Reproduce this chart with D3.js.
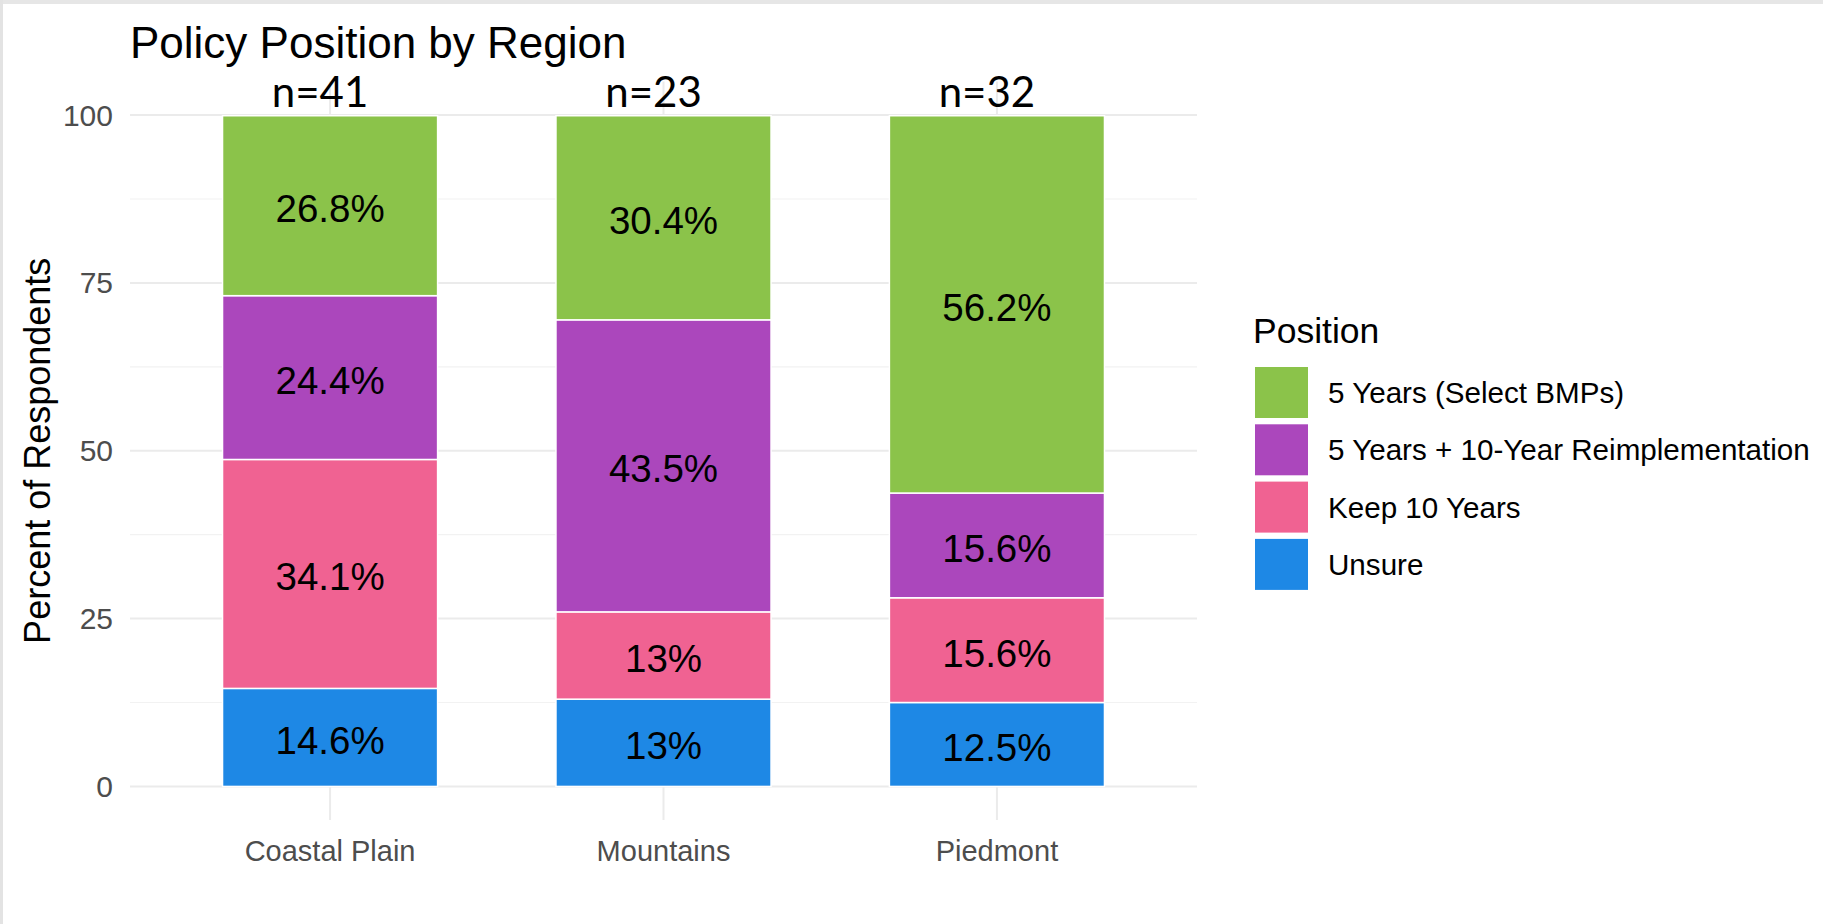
<!DOCTYPE html>
<html>
<head>
<meta charset="utf-8">
<script src="https://cdn.jsdelivr.net/npm/d3@7"></script>
<style>
  body { margin: 0; background: #fff; }
  svg { display: block; }
</style>
</head>
<body>
<div id="chart"></div>
<script>
const regions = ['Coastal Plain', 'Mountains', 'Piedmont']
const sampleSizes = [41, 23, 32]
const positions = ['Unsure', 'Keep 10 Years', '5 Years + 10-Year Reimplementation', '5 Years (Select BMPs)']
const unsure = [14.6, 13, 12.5]
const keep10 = [34.1, 13, 15.6]
const reimplement = [24.4, 43.5, 15.6]
const fiveYears = [26.8, 30.4, 56.2]
const colors = ['#1E88E5', '#F06292', '#AB47BC', '#8BC34A']
const yTicks = [0, 25, 50, 75, 100]
const yMinor = [12.5, 37.5, 62.5, 87.5]

const width = 1823
const height = 924
const panel = { left: 130, right: 1197, top: 81.5, bottom: 820 }
const font = '"Liberation Sans", Arial, sans-serif'

const rows = regions.map((r, i) => ({
    region: r,
    'Unsure': unsure[i],
    'Keep 10 Years': keep10[i],
    '5 Years + 10-Year Reimplementation': reimplement[i],
    '5 Years (Select BMPs)': fiveYears[i]
}))

const stacked = d3.stack().keys(positions)(rows)

const svg = d3.select('#chart')
    .append('svg')
    .attr('width', width)
    .attr('height', height)

// grey frame at top/left like the screenshot
svg.append('rect').attr('x', 0).attr('y', 0).attr('width', width).attr('height', 4).attr('fill', '#e6e6e6')
svg.append('rect').attr('x', 0).attr('y', 0).attr('width', 3).attr('height', height).attr('fill', '#e3e3e3')

const x = d3.scalePoint()
    .domain(regions)
    .range([panel.left, panel.right])
    .padding(0.6)

const y = d3.scaleLinear()
    .domain([-5, 105])
    .range([panel.bottom, panel.top])

const barWidth = x.step() * 0.645

// grid
svg.append('g')
    .selectAll('line')
    .data(yMinor)
    .enter()
    .append('line')
    .attr('x1', panel.left)
    .attr('x2', panel.right)
    .attr('y1', d => y(d))
    .attr('y2', d => y(d))
    .attr('stroke', '#f2f2f2')
    .attr('stroke-width', 1.2)

svg.append('g')
    .selectAll('line')
    .data(yTicks)
    .enter()
    .append('line')
    .attr('x1', panel.left)
    .attr('x2', panel.right)
    .attr('y1', d => y(d))
    .attr('y2', d => y(d))
    .attr('stroke', '#ebebeb')
    .attr('stroke-width', 2)

svg.append('g')
    .selectAll('line')
    .data(regions)
    .enter()
    .append('line')
    .attr('x1', d => x(d))
    .attr('x2', d => x(d))
    .attr('y1', panel.top)
    .attr('y2', panel.bottom)
    .attr('stroke', '#ebebeb')
    .attr('stroke-width', 2)

// bars
const layers = svg.append('g')
    .selectAll('g')
    .data(stacked)
    .enter()
    .append('g')
    .attr('fill', (_, i) => colors[i])

layers.selectAll('rect')
    .data(d => d)
    .enter()
    .append('rect')
    .attr('x', d => x(d.data.region) - barWidth / 2)
    .attr('y', d => y(d[1]))
    .attr('width', barWidth)
    .attr('height', d => y(d[0]) - y(d[1]))
    .attr('stroke', '#fff')
    .attr('stroke-width', 1.5)

// segment labels
layers.selectAll('text')
    .data(d => d)
    .enter()
    .append('text')
    .attr('x', d => x(d.data.region))
    .attr('y', d => y((d[0] + d[1]) / 2) + 3)
    .attr('text-anchor', 'middle')
    .attr('dominant-baseline', 'central')
    .attr('fill', '#000')
    .style('font', `38.5px ${font}`)
    .text(d => (d[1] - d[0]).toFixed(1).replace(/\.0$/, '') + '%')

// n= labels (sit a little left of the bar centre in the original)
svg.append('g')
    .selectAll('text')
    .data(regions)
    .enter()
    .append('text')
    .attr('x', d => x(d) - 10)
    .attr('y', 107)
    .attr('text-anchor', 'middle')
    .style('font', '42px Lato, "Open Sans", sans-serif')
    .attr('fill', '#000')
    .text((_, i) => 'n=' + sampleSizes[i])

// y axis labels
svg.append('g')
    .selectAll('text')
    .data(yTicks)
    .enter()
    .append('text')
    .attr('x', 113)
    .attr('y', d => y(d))
    .attr('text-anchor', 'end')
    .attr('dominant-baseline', 'central')
    .attr('fill', '#4d4d4d')
    .style('font', `30px ${font}`)
    .text(d => d)

// x axis labels
svg.append('g')
    .selectAll('text')
    .data(regions)
    .enter()
    .append('text')
    .attr('x', d => x(d))
    .attr('y', 861)
    .attr('text-anchor', 'middle')
    .attr('fill', '#4d4d4d')
    .style('font', `29px ${font}`)
    .text(d => d)

svg.append('text')
    .attr('transform', `translate(50, ${(panel.top + panel.bottom) / 2}) rotate(-90)`)
    .attr('text-anchor', 'middle')
    .attr('fill', '#000')
    .style('font', `36px ${font}`)
    .text('Percent of Respondents')

svg.append('text')
    .attr('x', 130)
    .attr('y', 58)
    .attr('fill', '#000')
    .style('font', `44px ${font}`)
    .text('Policy Position by Region')

// legend
const legend = svg.append('g')
svg.append('text')
    .attr('x', 1253)
    .attr('y', 343)
    .attr('fill', '#000')
    .style('font', `35.5px ${font}`)
    .text('Position')

const legendItems = positions.slice().reverse()
const legendColors = colors.slice().reverse()

legend.selectAll('rect')
    .data(legendItems)
    .enter()
    .append('rect')
    .attr('x', 1255)
    .attr('y', (_, i) => 367 + i * 57.3)
    .attr('width', 53)
    .attr('height', 51)
    .attr('fill', (_, i) => legendColors[i])

legend.selectAll('text')
    .data(legendItems)
    .enter()
    .append('text')
    .attr('x', 1328)
    .attr('y', (_, i) => 367 + i * 57.3 + 25.5)
    .attr('dominant-baseline', 'central')
    .attr('fill', '#000')
    .style('font', `29.6px ${font}`)
    .text(d => d)
</script>
</body>
</html>
